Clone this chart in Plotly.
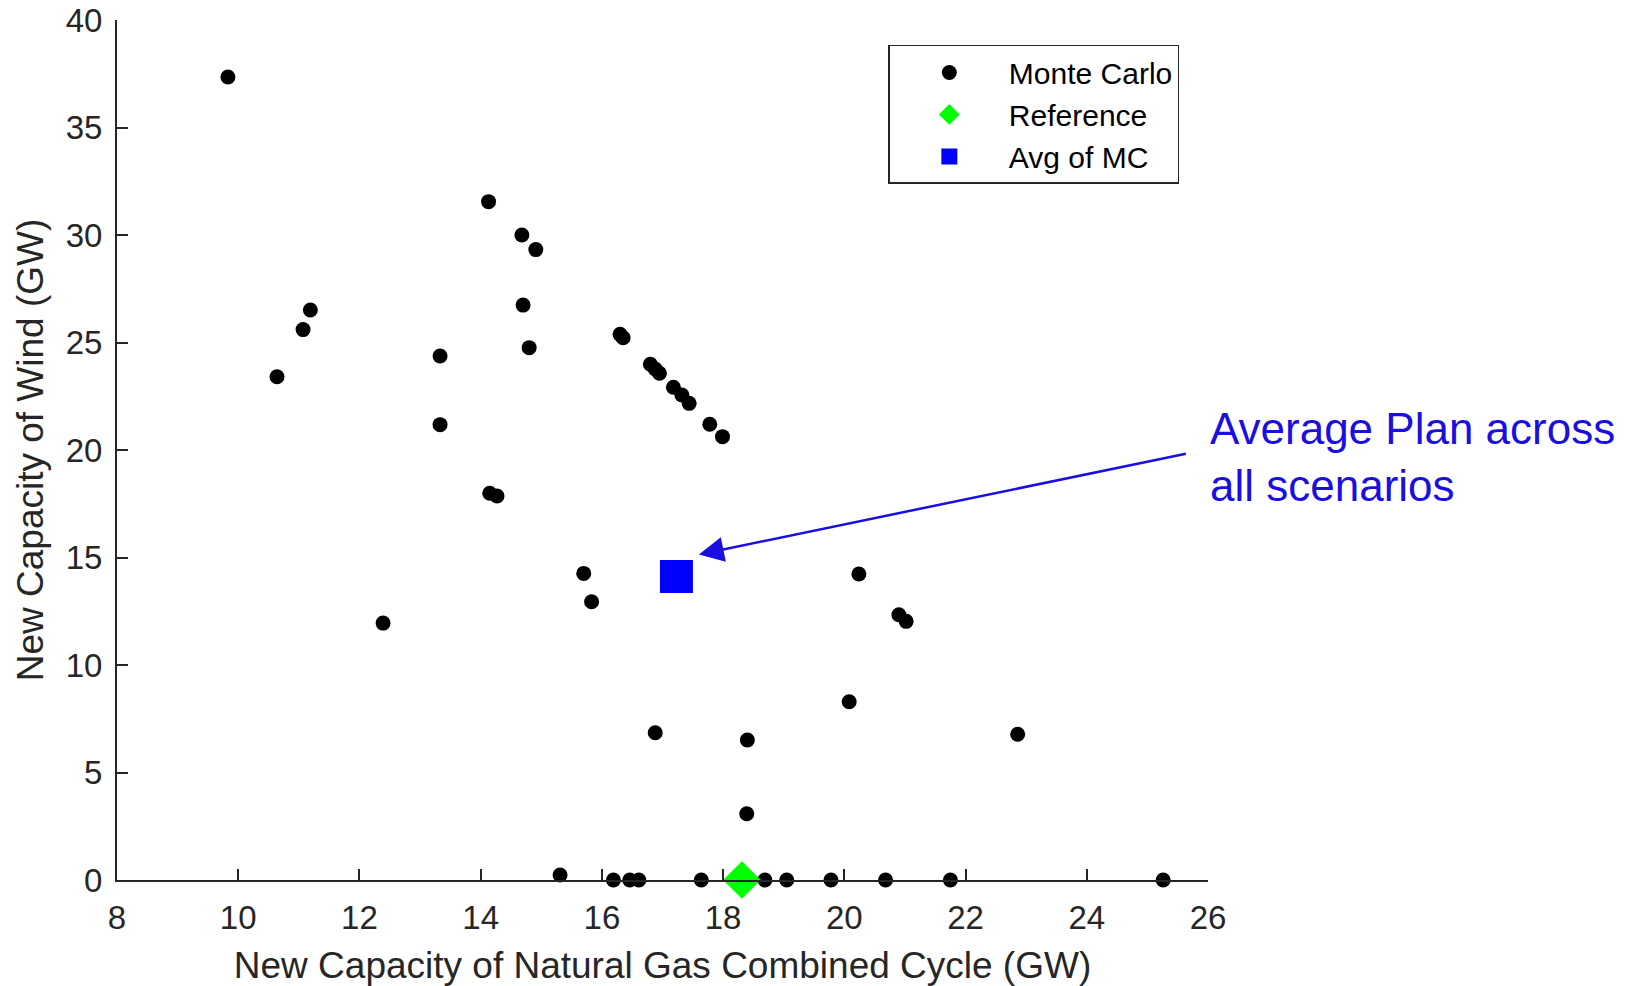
import plotly.graph_objects as go

# Monte Carlo capacity-expansion outcomes (GW)
mc_ngcc = [9.83, 10.64, 11.07, 11.19, 12.39, 13.33, 13.33, 14.13, 14.15, 14.27,
           14.68, 14.70, 14.80, 14.91, 15.31, 15.70, 15.83, 16.19, 16.30, 16.35,
           16.46, 16.61, 16.80, 16.88, 16.88, 16.95, 17.18, 17.32, 17.44, 17.64,
           17.78, 17.99, 18.39, 18.40, 18.69, 19.05, 19.78, 20.08, 20.24, 20.68,
           20.90, 21.02, 21.75, 22.86, 25.26]
mc_wind = [37.35, 23.41, 25.60, 26.51, 11.95, 24.37, 21.18, 31.55, 17.99, 17.86,
           30.00, 26.74, 24.76, 29.32, 0.23, 14.26, 12.94, 0.0, 25.38, 25.22,
           0.0, 0.0, 23.99, 23.77, 6.85, 23.57, 22.92, 22.56, 22.17, 0.0,
           21.20, 20.62, 3.08, 6.51, 0.0, 0.0, 0.0, 8.29, 14.23, 0.0,
           12.34, 12.03, 0.0, 6.78, 0.0]

# Reference plan and the average of the Monte Carlo plans
ref_ngcc = [18.31]
ref_wind = [0.0]
avg_ngcc = [17.23]
avg_wind = [14.12]

x_ticks = [8, 10, 12, 14, 16, 18, 20, 22, 24, 26]
y_ticks = [0, 5, 10, 15, 20, 25, 30, 35, 40]

FONT = "Liberation Sans"
AXIS_COLOR = "#262626"
NOTE_COLOR = "#1a0fe0"

fig = go.Figure()
fig.add_trace(go.Scatter(
    x=mc_ngcc, y=mc_wind, mode="markers", name="Monte Carlo",
    marker=dict(symbol="circle", size=15, color="black", line=dict(width=0)),
    cliponaxis=False,
))
fig.add_trace(go.Scatter(
    x=ref_ngcc, y=ref_wind, mode="markers", name="Reference",
    marker=dict(symbol="diamond", size=29, color="#00ff00", line=dict(width=0)),
    cliponaxis=False,
))
fig.add_trace(go.Scatter(
    x=avg_ngcc, y=avg_wind, mode="markers", name="Avg of MC",
    marker=dict(symbol="square", size=33, color="#0000ff", line=dict(width=0)),
    cliponaxis=False,
))

axis_common = dict(
    showgrid=False, zeroline=False, showline=True, linecolor=AXIS_COLOR,
    linewidth=2, ticks="inside", ticklen=11, tickwidth=2, tickcolor=AXIS_COLOR,
    tickfont=dict(family=FONT, size=33, color=AXIS_COLOR),
    mirror=False, automargin=False,
)

fig.update_layout(
    width=1631, height=986,
    margin=dict(l=117, r=423, t=20, b=106),
    paper_bgcolor="white", plot_bgcolor="white",
    font=dict(family=FONT, color=AXIS_COLOR),
    xaxis=dict(
        range=[8, 26], tickvals=x_ticks, ticktext=[str(v) for v in x_ticks],
        ticklabelstandoff=7,
        title=dict(text="New Capacity of Natural Gas Combined Cycle (GW)",
                   font=dict(family=FONT, size=37, color=AXIS_COLOR), standoff=18),
        **axis_common,
    ),
    yaxis=dict(
        range=[0, 40], tickvals=y_ticks, ticktext=[str(v) for v in y_ticks],
        ticklabelstandoff=6,
        title=dict(text="New Capacity of Wind (GW)",
                   font=dict(family=FONT, size=37, color=AXIS_COLOR), standoff=11),
        **axis_common,
    ),
    legend=dict(
        x=0.707, y=0.971, xanchor="left", yanchor="top",
        bgcolor="white", bordercolor=AXIS_COLOR, borderwidth=1.5,
        font=dict(family=FONT, size=30, color="black"),
        itemwidth=109,
    ),
    showlegend=True,
)

# Callout pointing at the average plan
fig.add_annotation(
    x=17.60, y=15.14, xref="x", yref="y",
    ax=25.66, ay=19.84, axref="x", ayref="y",
    text="", showarrow=True, arrowhead=2, arrowsize=2, arrowwidth=2.5,
    arrowcolor=NOTE_COLOR, standoff=0,
)
fig.add_annotation(
    x=1.0, y=19.67, xref="paper", yref="y", xanchor="left", yanchor="middle",
    text="Average Plan across<br>all scenarios", showarrow=False, align="left",
    font=dict(family=FONT, size=44, color=NOTE_COLOR),
)

fig.write_html("out.html")
